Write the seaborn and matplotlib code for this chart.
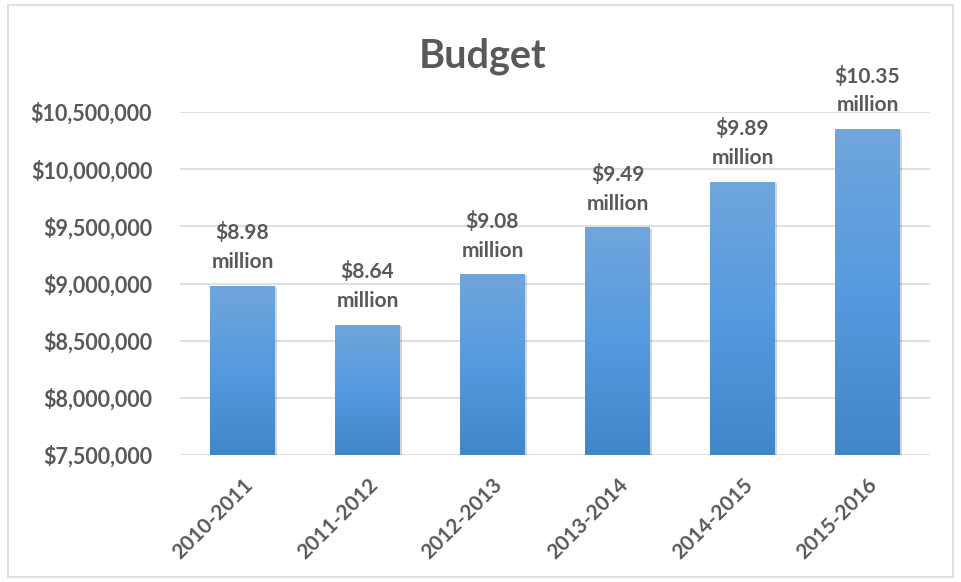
import numpy as np
import pandas as pd
import matplotlib
matplotlib.use("Agg")
import matplotlib.pyplot as plt
import seaborn as sns
from matplotlib.ticker import FuncFormatter
from matplotlib.patches import Rectangle

# --- data ---
years = ["2010-2011", "2011-2012", "2012-2013", "2013-2014", "2014-2015", "2015-2016"]
budget = [8980000, 8640000, 9080000, 9490000, 9890000, 10350000]
labels = ["$8.98\nmillion", "$8.64\nmillion", "$9.08\nmillion",
          "$9.49\nmillion", "$9.89\nmillion", "$10.35\nmillion"]

df = pd.DataFrame({"year": years, "budget": budget})

sns.set_theme(style="white")
plt.rcParams["font.family"] = ["Lato", "DejaVu Sans"]
grey = "#595959"
ymin, ymax = 7500000, 10500000

fig = plt.figure(figsize=(9.61, 5.82), dpi=100)
ax = fig.add_axes([180 / 961, 1 - 455 / 582, 750 / 961, 343 / 582])

sns.barplot(data=df, x="year", y="budget", color="#5b9bd5", width=0.52,
            ax=ax, zorder=3, saturation=1)

ax.set_yticks(np.arange(ymin, ymax + 1, 500000))
ax.yaxis.set_major_formatter(FuncFormatter(lambda v, p: f"${v:,.0f}"))
ax.grid(axis="y", color="#d9d9d9", linewidth=1.2, zorder=0)
for s in ax.spines.values():
    s.set_visible(False)
ax.tick_params(axis="both", length=0)
ax.tick_params(axis="y", pad=20)
ax.tick_params(axis="x", pad=14)
ax.set_xlabel("")
ax.set_ylabel("")
for t in ax.get_yticklabels():
    t.set_fontsize(15.5)
    t.set_fontweight("bold")
    t.set_color(grey)
for t in ax.get_xticklabels():
    t.set_fontsize(15)
    t.set_fontweight("bold")
    t.set_color(grey)
    t.set_rotation(45)
    t.set_ha("right")
    t.set_rotation_mode("anchor")

# gradient fill + soft shadow on bars (only the visible part above ymin)
grad = np.linspace(0, 1, 256).reshape(-1, 1)
cmap = matplotlib.colors.LinearSegmentedColormap.from_list(
    "bargrad", ["#4186c9", "#559ae0", "#70a6dc"])
for bar in list(ax.patches):
    x0, w = bar.get_x(), bar.get_width()
    top = bar.get_y() + bar.get_height()
    bar.set_visible(False)
    sh = Rectangle((x0 + 0.012, ymin), w, top - ymin - 10000,
                   facecolor="#000000", alpha=0.16, zorder=2,
                   edgecolor="none")
    ax.add_patch(sh)
    clip = Rectangle((x0, ymin), w, top - ymin, transform=ax.transData,
                     facecolor="none", edgecolor="none")
    ax.add_patch(clip)
    im = ax.imshow(grad, extent=[x0, x0 + w, ymin, top], origin="lower",
                   cmap=cmap, aspect="auto", zorder=3.5)
    im.set_clip_path(clip)

ax.set_ylim(ymin, ymax)
ax.set_xlim(-0.5, len(years) - 0.5)

for i, (v, lab) in enumerate(zip(budget, labels)):
    ax.text(i, v + 120000, lab, ha="center", va="bottom", fontsize=15,
            fontweight="bold", color=grey, linespacing=1.55, clip_on=False)

fig.text(483 / 961, 1 - 56 / 582, "Budget", ha="center", va="center",
         fontsize=28.5, fontweight="bold", color=grey)

fig.patches.append(Rectangle((8 / 961, 5 / 582), 945 / 961, 572 / 582,
                             transform=fig.transFigure, fill=False,
                             edgecolor="#d9d9d9", linewidth=1.2))

fig.savefig("out.png", dpi=100)
